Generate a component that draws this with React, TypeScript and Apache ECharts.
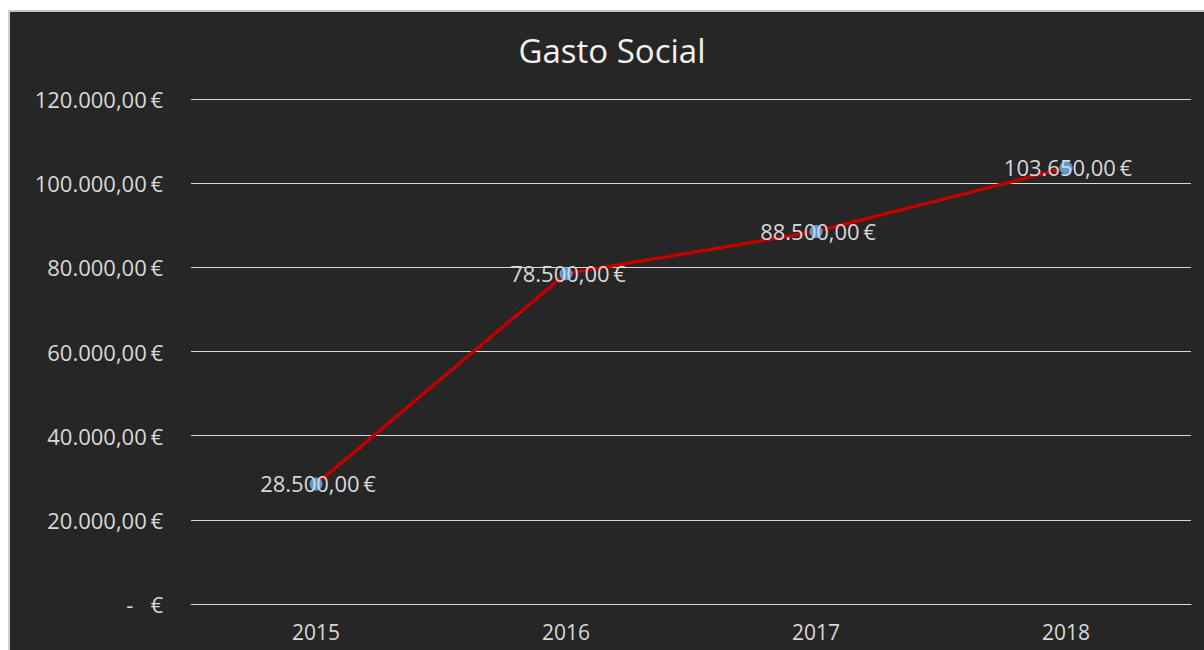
import React, { useEffect, useRef } from "react";
import * as echarts from "echarts";

const categories = ["2015", "2016", "2017", "2018"];
const gastoSocial = [28500, 78500, 88500, 103650];
const yMin = 0;
const yMax = 120000;
const yInterval = 20000;

function fmtEuro(v: number): string {
  if (v === 0) return "-\u00a0\u00a0\u00a0€";
  const intPart = Math.floor(Math.abs(v)).toString().replace(/\B(?=(\d{3})+(?!\d))/g, ".");
  const dec = Math.round((Math.abs(v) % 1) * 100).toString().padStart(2, "0");
  return (v < 0 ? "-" : "") + intPart + "," + dec + "\u2009€";
}

const FONT = "'Open Sans', 'Noto Sans', sans-serif";

export default function App() {
  const ref = useRef<HTMLDivElement>(null);
  useEffect(() => {
    if (!ref.current) return;
    const chart = echarts.init(ref.current, null, { renderer: "svg" });
    chart.setOption({
      animation: false,
      backgroundColor: "#262626",
      title: {
        text: "Gasto Social",
        left: 597,
        textAlign: "center",
        top: 17,
        textStyle: { color: "#f2f2f2", fontSize: 33, fontWeight: "normal", fontFamily: FONT },
      },
      grid: { left: 181, right: 13, top: 87, bottom: 46, containLabel: false },
      xAxis: {
        type: "category",
        data: categories,
        boundaryGap: true,
        axisLine: { show: true, lineStyle: { color: "#d9d9d9", width: 1 } },
        axisTick: { show: false },
        axisLabel: { color: "#d9d9d9", fontSize: 21, fontFamily: FONT, margin: 17 },
      },
      yAxis: {
        type: "value",
        min: yMin,
        max: yMax,
        interval: yInterval,
        axisLine: { show: false },
        axisTick: { show: false },
        splitLine: { lineStyle: { color: "#d9d9d9", width: 1 } },
        axisLabel: {
          color: "#d9d9d9",
          fontSize: 22,
          fontFamily: FONT,
          margin: 28,
          formatter: (v: number) => fmtEuro(v),
        },
      },
      series: [
        {
          name: "Gasto Social",
          type: "line",
          data: gastoSocial,
          symbol: "circle",
          symbolSize: 13,
          itemStyle: { color: "#5b9bd5" },
          lineStyle: { color: "#c00000", width: 3.5 },
          label: {
            show: true,
            position: "inside",
            offset: [2, -1],
            color: "#d9d9d9",
            fontSize: 22,
            fontFamily: FONT,
            formatter: (p: any) => fmtEuro(p.value),
          },
        },
      ],
    });
    return () => chart.dispose();
  }, []);
  return (
    <div
      style={{
        position: "fixed",
        left: 8,
        top: 10,
        right: 0,
        bottom: 0,
        boxSizing: "border-box",
        borderTop: "2px solid #c4c4c4",
        borderLeft: "2px solid #d0d0d0",
        background: "#262626",
      }}
    >
      <div ref={ref} style={{ width: "100%", height: "100%" }} />
    </div>
  );
}
